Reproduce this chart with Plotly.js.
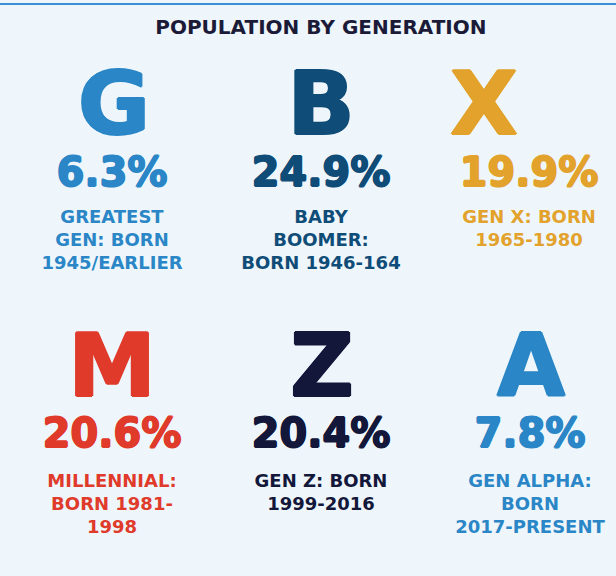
<!DOCTYPE html>
<html>
<head>
<meta charset="utf-8">
<script src="https://cdn.plot.ly/plotly-3.0.1.min.js"></script>
<style>html,body{margin:0;padding:0;background:#eef6fc;}#chart{width:616px;height:576px;}</style>
</head>
<body>
<div id="chart"></div>
<script>
// ---- data ----
const letters = ['G', 'B', 'X', 'M', 'Z', 'A'];
const shares = [6.3, 24.9, 19.9, 20.6, 20.4, 7.8];
const descriptions = [
  'GREATEST<br>GEN: BORN<br>1945/EARLIER',
  'BABY<br>BOOMER:<br>BORN 1946-164',
  'GEN X: BORN<br>1965-1980',
  'MILLENNIAL:<br>BORN 1981-<br>1998',
  'GEN Z: BORN<br>1999-2016',
  'GEN ALPHA:<br>BORN<br>2017-PRESENT'
];
const titleText = 'POPULATION BY GENERATION';

// ---- styles / layout ----
const palette = ['#2a86c6', '#0f4c77', '#e2a22b', '#e03a2b', '#13173a', '#2a86c6'];
const letterX = [114, 321, 484, 112, 322, 531];
const textX = [112, 321, 529, 112, 321, 530];
const rowLetterY = [112, 374];
const rowPctY = [176, 437];
const rowLabelY = [209, 473];
const rowOf = i => Math.floor(i / 3);

const font = '"DejaVu Sans", sans-serif';
const heavy = (c, w) => `${w}px 0 0 ${c}, -${w}px 0 0 ${c}, 0 ${w}px 0 ${c}, 0 -${w}px 0 ${c}`;

const traces = [];
letters.forEach((L, i) => {
  const c = palette[i];
  const r = rowOf(i);
  traces.push({
    type: 'scatter', mode: 'text',
    x: [letterX[i]], y: [rowLetterY[r]],
    text: [L], textposition: 'middle center',
    textfont: {family: font, size: 88, weight: 'bold', color: c, shadow: heavy(c, 1.2)},
    hoverinfo: 'skip', showlegend: false
  });
  traces.push({
    type: 'scatter', mode: 'text',
    x: [textX[i]], y: [rowPctY[r]],
    text: [shares[i].toFixed(1) + '%'], textposition: 'middle center',
    textfont: {family: font, size: 40, weight: 'bold', color: c, shadow: heavy(c, 0.9)},
    hoverinfo: 'skip', showlegend: false
  });
  traces.push({
    type: 'scatter', mode: 'text',
    x: [textX[i]], y: [rowLabelY[r]],
    text: [descriptions[i]], textposition: 'bottom center',
    textfont: {family: font, size: 18, weight: 'bold', color: c},
    hoverinfo: 'skip', showlegend: false
  });
});

const layout = {
  width: 616, height: 576,
  margin: {l: 0, r: 0, t: 0, b: 0},
  paper_bgcolor: '#eef6fc', plot_bgcolor: '#eef6fc',
  title: {text: titleText, x: 0.521, xanchor: 'center', y: 0.953, yanchor: 'middle',
          font: {family: font, size: 20, weight: 'bold', color: '#1b1b38'}},
  xaxis: {range: [0, 616], visible: false, fixedrange: true},
  yaxis: {range: [576, 0], visible: false, fixedrange: true},
  shapes: [
    {type: 'line', xref: 'paper', yref: 'y', x0: 0, x1: 1, y0: 4, y1: 4,
     line: {color: '#3a8fd6', width: 2}}
  ]
};

Plotly.newPlot('chart', traces, layout, {displayModeBar: false, staticPlot: true});
</script>
</body>
</html>
